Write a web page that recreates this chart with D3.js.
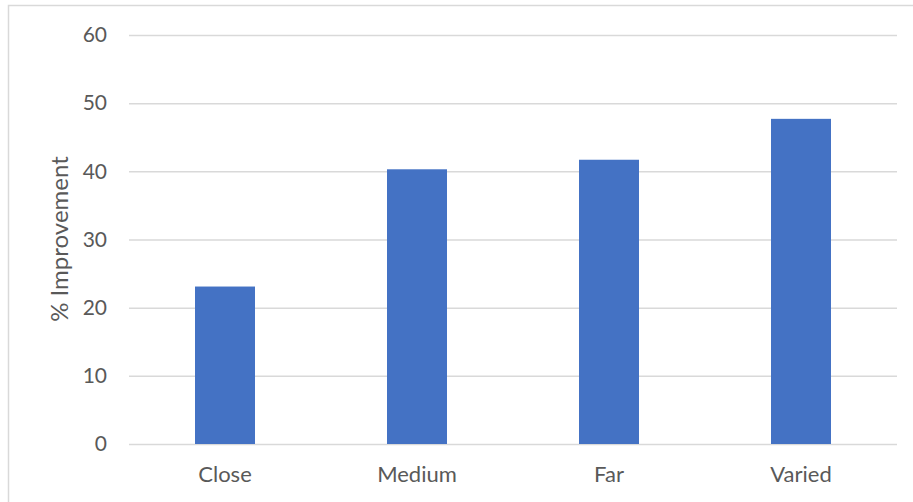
<!DOCTYPE html>
<html><head><meta charset="utf-8">
<script src="https://cdn.jsdelivr.net/npm/d3@7"></script>
<style>html,body{margin:0;padding:0;background:#fff;}svg{display:block;}</style>
</head><body>
<svg id="chart" width="913" height="502"></svg>
<script>
const categories = ["Close", "Medium", "Far", "Varied"];
const values = [23.1, 40.3, 41.7, 47.7];
const yTicks = [0, 10, 20, 30, 40, 50, 60];
const yLabel = "% Improvement";

const W = 913, H = 502;
const m = {left: 129, right: 16, top: 35, bottom: 58};
const svg = d3.select("#chart");
const font = "Lato, 'Open Sans', sans-serif";

svg.append("rect").attr("x", 8.5).attr("y", 5.5).attr("width", 920).attr("height", 520)
  .attr("fill", "#fff").attr("stroke", "#d9d9d9").attr("stroke-width", 1.5);

const x = d3.scaleBand().domain(categories).range([m.left, W - m.right])
  .paddingInner(0.6875).paddingOuter(0.34375);
const y = d3.scaleLinear().domain([0, 60]).range([H - m.bottom, m.top]);

const yAxis = svg.append("g").attr("transform", `translate(${m.left},0)`)
  .call(d3.axisLeft(y).tickValues(yTicks).tickSize(-(W - m.left - m.right)).tickPadding(22));
yAxis.select(".domain").remove();
yAxis.selectAll(".tick line").attr("stroke", "#d9d9d9").attr("stroke-width", 1.5);
yAxis.selectAll(".tick text").attr("fill", "#595959").attr("font-family", font).attr("font-size", 21);

svg.append("g").selectAll("rect").data(categories).join("rect")
  .attr("x", d => x(d)).attr("width", x.bandwidth())
  .attr("y", (d, i) => y(values[i])).attr("height", (d, i) => y(0) - y(values[i]))
  .attr("fill", "#4472C4");

const xAxis = svg.append("g").attr("transform", `translate(0,${H - m.bottom})`)
  .call(d3.axisBottom(x).tickSize(0).tickPadding(22));
xAxis.select(".domain").remove();
xAxis.selectAll(".tick text").attr("fill", "#595959").attr("font-family", font).attr("font-size", 22);

svg.append("text").attr("transform", `translate(68,239) rotate(-90)`)
  .attr("text-anchor", "middle").attr("fill", "#595959").attr("font-family", font).attr("font-size", 24)
  .text(yLabel);
</script>
</body></html>
